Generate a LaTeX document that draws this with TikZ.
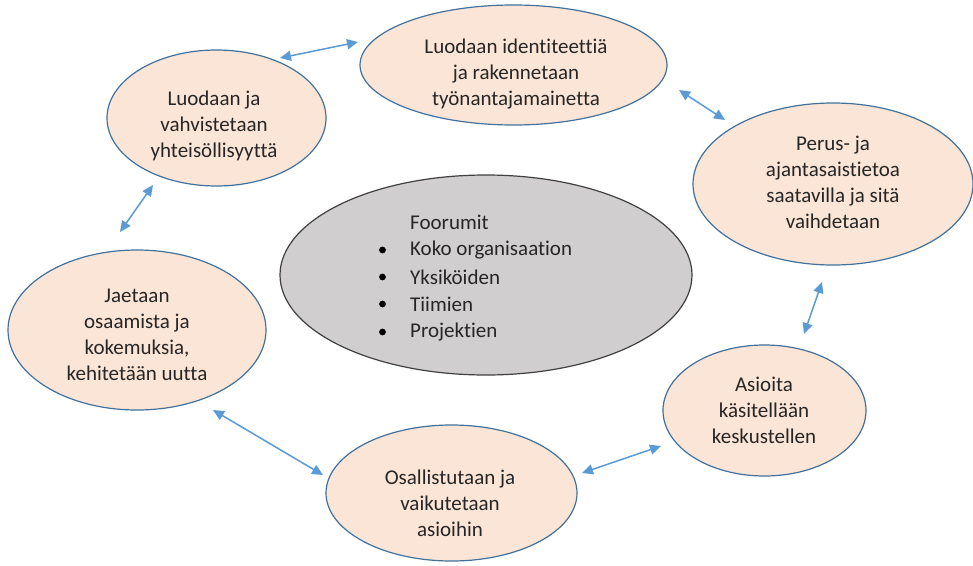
\documentclass[tikz,border=0pt]{standalone}
\usepackage{fontspec}
\setmainfont{Carlito}[Ligatures={NoCommon}]
\usetikzlibrary{shapes.geometric,arrows.meta}
\definecolor{peach}{HTML}{FBE5D6}
\definecolor{edgeblue}{HTML}{41719C}
\definecolor{arrowblue}{HTML}{5B9BD5}
\definecolor{grayfill}{HTML}{D0CECE}
\definecolor{grayedge}{HTML}{404040}
\begin{document}
\begin{tikzpicture}[x=1pt,y=-1pt,
  peachell/.style={ellipse,draw=edgeblue,line width=1.2pt,fill=peach,inner sep=0pt},
  grayell/.style={ellipse,draw=grayedge,line width=1.2pt,fill=grayfill,inner sep=0pt},
  lbl/.style={align=center,font=\fontsize{21}{26}\selectfont,text=black!85,inner sep=0pt},
  dbl/.style={draw=arrowblue,line width=1.5pt,{Triangle[length=11pt,width=10pt]}-{Triangle[length=11pt,width=10pt]},fill=arrowblue}
]
\useasboundingbox (0,0) rectangle (973,565);
\fill[white] (0,0) rectangle (973,565);

\node[peachell,minimum width=307pt,minimum height=120pt] (top) at (513.5,65) {};
\node[peachell,minimum width=219pt,minimum height=136pt] (tl) at (216.5,118) {};
\node[peachell,minimum width=280pt,minimum height=162pt] (rt) at (833,184) {};
\node[grayell,minimum width=412pt,minimum height=200pt] (mid) at (486,275) {};
\node[peachell,minimum width=258pt,minimum height=160pt] (lf) at (137,330) {};
\node[peachell,minimum width=203pt,minimum height=131pt] (rb) at (764.5,410.5) {};
\node[peachell,minimum width=251pt,minimum height=136pt] (bt) at (451.5,493) {};

\node[lbl] (toptxt) at (516,74) {Luodaan identiteettiä\\ja rakennetaan\\työnantajamainetta};
\node[lbl] (tltxt) at (214,126) {Luodaan ja\\vahvistetaan\\yhteisöllisyyttä};
\node[lbl] (rttxt) at (833,182) {Perus- ja\\ajantasaistietoa\\saatavilla ja sitä\\vaihdetaan};
\node[lbl] (lftxt) at (137,335) {Jaetaan\\osaamista ja\\kokemuksia,\\kehitetään uutta};
\node[lbl] (rbtxt) at (764,410) {Asioita\\käsitellään\\keskustellen};
\node[lbl] (bttxt) at (450,503) {Osallistutaan ja\\vaikutetaan\\asioihin};

\node[lbl,align=left,anchor=west] (f0) at (410,222) {Foorumit};
\foreach \i/\t/\y in {1/Koko organisaation/250,2/Yksiköiden/277,3/Tiimien/304,4/Projektien/332}{
  \node[lbl,align=left,anchor=west] (f\i) at (410,\y) {\t};
  \fill[black] (382.5,\y) circle (3.4pt);
}

\coordinate (a1) at (280,58);   \coordinate (b1) at (358,42);
\coordinate (a2) at (679,90);   \coordinate (b2) at (725,120);
\coordinate (a3) at (822,282);  \coordinate (b3) at (804,334);
\coordinate (a4) at (661,446);  \coordinate (b4) at (582,473);
\coordinate (a5) at (213,410);  \coordinate (b5) at (323,475);
\coordinate (a6) at (153,185);  \coordinate (b6) at (120,232);
\foreach \k in {1,...,6}{ \draw[dbl] (a\k) -- (b\k); }
\end{tikzpicture}
\end{document}
